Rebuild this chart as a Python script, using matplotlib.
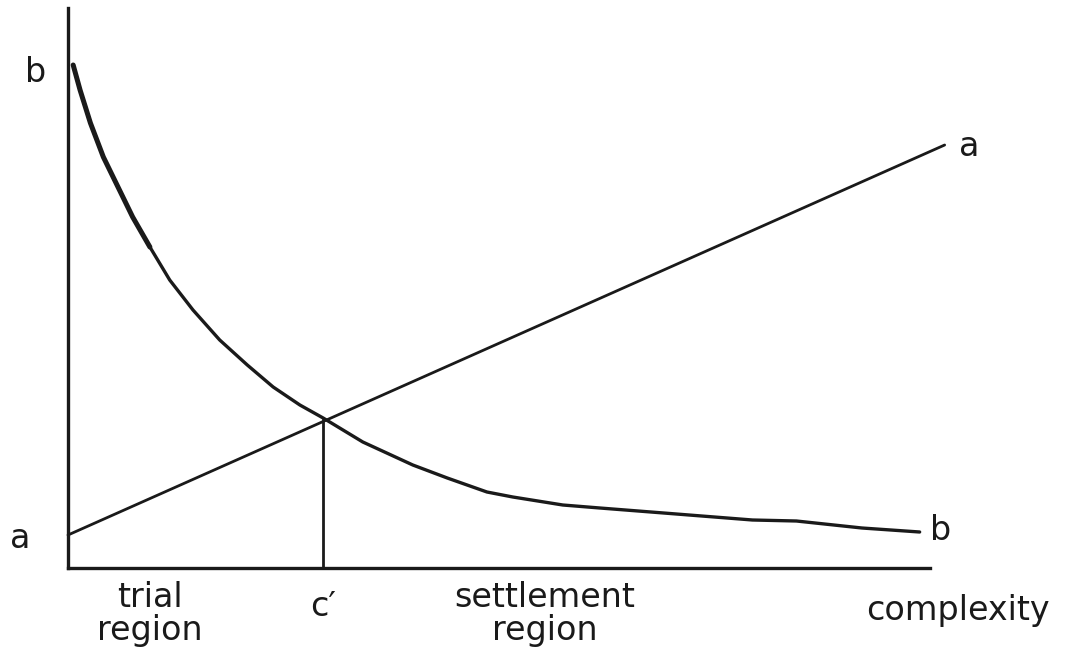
import matplotlib
matplotlib.use("Agg")
import matplotlib.pyplot as plt

# Line a (rising line): endpoints
a_x = [0.0, 10.17]
a_y = [0.66, 8.46]

# Curve b (falling curve)
b_x = [0.06, 0.14, 0.26, 0.41, 0.58, 0.75, 0.95, 1.18, 1.45, 1.76, 2.08, 2.38,
       2.69, 2.96, 3.42, 4.00, 4.40, 4.86, 5.16, 5.74, 6.17, 6.91, 7.94, 8.45,
       9.21, 9.88]
b_y = [10.06, 9.56, 8.90, 8.22, 7.62, 7.02, 6.42, 5.76, 5.16, 4.56, 4.06, 3.62,
       3.26, 3.00, 2.52, 2.06, 1.80, 1.52, 1.42, 1.26, 1.20, 1.10, 0.96, 0.94,
       0.80, 0.72]

# Intersection c'
c_x = 2.96
c_y = 2.96

ink = "#1a1a1a"
fig = plt.figure(figsize=(10.83, 6.69), dpi=100)
W, H = 1083, 669
ax = fig.add_axes([68 / W, (H - 568) / H, (930 - 68) / W, (568 - 8) / H])
ax.set_xlim(0, 10)
ax.set_ylim(0, 11.2)
for s in ["top", "right"]:
    ax.spines[s].set_visible(False)
for s in ["left", "bottom"]:
    ax.spines[s].set_linewidth(2.4)
    ax.spines[s].set_color(ink)
ax.set_xticks([])
ax.set_yticks([])

ax.plot(a_x, a_y, color=ink, lw=2.0, clip_on=False, solid_capstyle="round")
ax.plot(b_x, b_y, color=ink, lw=2.4, clip_on=False,
        solid_capstyle="round", solid_joinstyle="round")
# heavier stroke at the start of curve b, as in the sketch
ax.plot(b_x[:7], b_y[:7], color=ink, lw=3.6, clip_on=False,
        solid_capstyle="round", solid_joinstyle="round")
ax.plot([c_x, c_x], [0, c_y], color=ink, lw=2.0)

fs = 24
kw = dict(color=ink, fontsize=fs, ha="center", va="center",
          family="DejaVu Sans", clip_on=False)
ax.text(-0.38, 9.9, "b", **kw)
ax.text(-0.56, 0.58, "a", **kw)
ax.text(10.46, 8.44, "a", **kw)
ax.text(10.12, 0.74, "b", **kw)
ax.text(c_x, -0.78, "c\u2032", **kw)
ax.text(0.95, -0.92, "trial\nregion", linespacing=1.0, **kw)
ax.text(5.53, -0.92, "settlement\nregion", linespacing=1.0, **kw)
ax.text(10.32, -0.85, "complexity", **kw)

fig.savefig("out.png", dpi=100, facecolor="white")
